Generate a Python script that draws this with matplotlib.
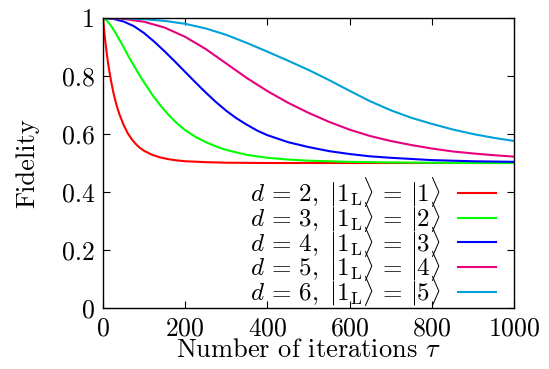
import matplotlib
matplotlib.use('Agg')
import matplotlib.pyplot as plt

matplotlib.rcParams['font.family'] = 'cmr10'
matplotlib.rcParams['mathtext.fontset'] = 'cm'
matplotlib.rcParams['axes.formatter.use_mathtext'] = True

# values
t_red = [0, 3, 6, 9, 12, 15, 20, 25, 30, 35, 40, 50, 60, 70, 80, 90, 100, 120, 140, 160, 180, 200, 250, 300, 400, 500, 600, 700, 800, 900, 1000]
f_red = [1, 0.955, 0.915, 0.88, 0.848, 0.82, 0.78, 0.745, 0.715, 0.69, 0.668, 0.632, 0.603, 0.582, 0.565, 0.552, 0.542, 0.528, 0.519, 0.513, 0.509, 0.506, 0.503, 0.501, 0.5, 0.5, 0.5, 0.5, 0.5, 0.5, 0.5]

t_green = [0, 10, 20, 30, 40, 50, 60, 70, 80, 90, 100, 120, 140, 160, 180, 200, 225, 250, 275, 300, 350, 400, 450, 500, 600, 700, 800, 900, 1000]
f_green = [1, 0.99, 0.972, 0.95, 0.925, 0.9, 0.873, 0.848, 0.824, 0.8, 0.778, 0.735, 0.698, 0.665, 0.637, 0.613, 0.59, 0.572, 0.557, 0.545, 0.528, 0.518, 0.512, 0.508, 0.504, 0.502, 0.501, 0.5, 0.5]

t_blue = [0, 25, 50, 75, 100, 125, 150, 175, 200, 225, 250, 275, 300, 325, 350, 375, 400, 450, 500, 550, 600, 650, 700, 800, 900, 1000]
f_blue = [1, 0.997, 0.988, 0.972, 0.948, 0.918, 0.885, 0.85, 0.814, 0.778, 0.743, 0.71, 0.68, 0.654, 0.632, 0.612, 0.596, 0.572, 0.555, 0.541, 0.531, 0.523, 0.518, 0.51, 0.506, 0.504]

t_mag = [0, 50, 100, 150, 200, 250, 300, 350, 400, 450, 500, 550, 600, 650, 700, 750, 800, 850, 900, 950, 1000]
f_mag = [1, 0.997, 0.987, 0.967, 0.935, 0.893, 0.843, 0.793, 0.748, 0.708, 0.673, 0.642, 0.615, 0.593, 0.576, 0.562, 0.55, 0.54, 0.533, 0.527, 0.522]

t_cyan = [0, 50, 100, 150, 200, 250, 300, 350, 400, 450, 500, 550, 600, 650, 700, 750, 800, 850, 900, 950, 1000]
f_cyan = [1, 0.999, 0.996, 0.99, 0.98, 0.964, 0.942, 0.914, 0.884, 0.853, 0.821, 0.786, 0.749, 0.713, 0.682, 0.656, 0.635, 0.616, 0.6, 0.587, 0.576]

labels = [r'$d\,=\,%d,\ |1_{\mathrm{L}}\rangle\,=\,|%d\rangle$' % (d, d - 1) for d in range(2, 7)]
colors = ['#ff0000', '#00ff00', '#0000ff', '#e6007e', '#00a0d8']
series = [(t_red, f_red), (t_green, f_green), (t_blue, f_blue), (t_mag, f_mag), (t_cyan, f_cyan)]

fig = plt.figure(figsize=(5.49, 3.69), dpi=100)
ax = fig.add_axes([0.1876, 0.1653, 0.7486, 0.7859])

for (t, f), c, lab in zip(series, colors, labels):
    ax.plot(t, f, color=c, lw=1.5, label=lab)

ax.set_xlim(0, 1000)
ax.set_ylim(0, 1)
ax.set_xticks([0, 200, 400, 600, 800, 1000])
ax.set_yticks([0, 0.2, 0.4, 0.6, 0.8, 1])
ax.set_yticklabels(['0', '0.2', '0.4', '0.6', '0.8', '1'])
ax.tick_params(direction='in', top=True, right=True, length=5, width=0.8, labelsize=18.5, pad=6)
for s in ax.spines.values():
    s.set_linewidth(1.0)

ax.set_xlabel(r'Number of iterations $\tau$', fontsize=19, labelpad=-1)
ax.set_ylabel('Fidelity', fontsize=19, labelpad=16)

leg = ax.legend(loc='lower right', frameon=False, markerfirst=False, fontsize=18,
                handlelength=1.5, labelspacing=-0.36, borderaxespad=0.0,
                handletextpad=0.7, bbox_to_anchor=(0.98, -0.035))
for txt in leg.get_texts():
    txt.set_ha('right')

fig.savefig('out.png', dpi=100)
